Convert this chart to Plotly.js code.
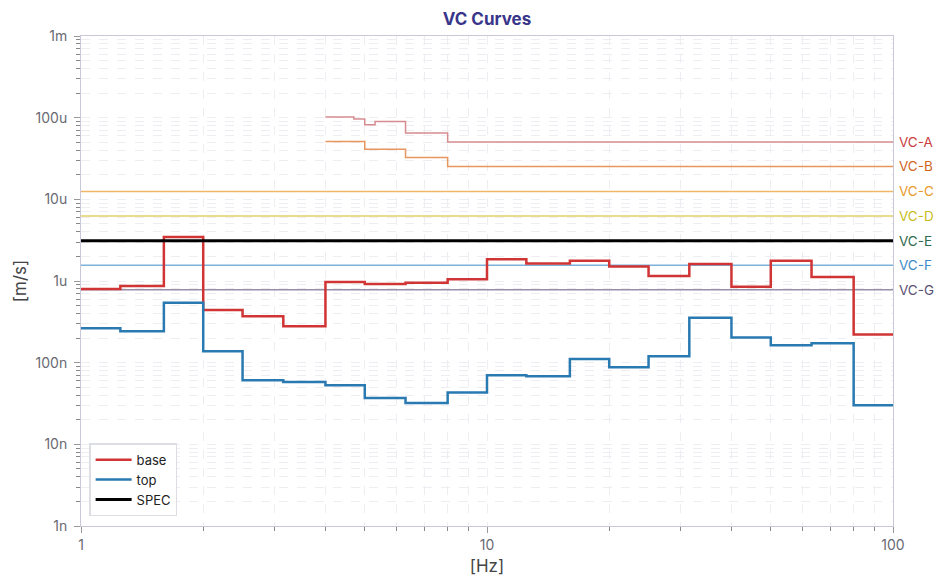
<!DOCTYPE html>
<html>
<head>
<meta charset="utf-8">
<script src="https://cdn.plot.ly/plotly-3.0.1.min.js"></script>
<style>
  html, body { margin: 0; padding: 0; background: #fff; }
  #chart { width: 949px; height: 587px; }
</style>
</head>
<body>
<div id="chart"></div>
<script>
// third-octave band edges (Hz), last value is the end of the plot
const bands = [1, 1.25, 1.6, 2, 2.5, 3.15, 4, 5, 6.3, 8, 10, 12.5, 16, 20, 25, 31.5, 40, 50, 63, 80, 100];

// measured velocity per band [m/s]
const baseVel = [0.80e-6, 0.87e-6, 3.45e-6, 0.44e-6, 0.37e-6, 0.28e-6, 0.97e-6, 0.92e-6, 0.95e-6, 1.05e-6,
                 1.84e-6, 1.64e-6, 1.77e-6, 1.50e-6, 1.15e-6, 1.61e-6, 0.85e-6, 1.77e-6, 1.12e-6, 0.222e-6, 0.222e-6];
const topVel = [264e-9, 242e-9, 543e-9, 138e-9, 61e-9, 58e-9, 53e-9, 37e-9, 32e-9, 43e-9,
                70e-9, 68e-9, 111e-9, 88e-9, 120e-9, 355e-9, 204e-9, 163e-9, 173e-9, 30e-9, 30e-9];

// VC criteria
const vcAFreq = [4, 4.7, 5, 5.3, 6.3, 8, 100];
const vcAVel = [102e-6, 96e-6, 82e-6, 90e-6, 65e-6, 50.5e-6, 50.5e-6];
const vcBFreq = [4, 5, 6.3, 8, 100];
const vcBVel = [51e-6, 41e-6, 32.5e-6, 25.3e-6, 25.3e-6];
const flatFreq = [1, 100];
const vcNames = ['VC-C', 'VC-D', 'VC-E', 'VC-F', 'VC-G'];
const vcFlat = [12.5e-6, 6.25e-6, 3.12e-6, 1.56e-6, 0.78e-6];
const specVel = 3.12e-6;

const labelNames = ['VC-A', 'VC-B', 'VC-C', 'VC-D', 'VC-E', 'VC-F', 'VC-G'];
const labelVel = [50.5e-6, 25.3e-6, 12.5e-6, 6.25e-6, 3.12e-6, 1.56e-6, 0.78e-6];
const labelColors = ['#c9403f', '#d0661e', '#e89a2c', '#c9bd1c', '#2e6a4e', '#3c8bc6', '#5a5072'];

const yTickVals = [1e-9, 1e-8, 1e-7, 1e-6, 1e-5, 1e-4, 1e-3];
const yTickText = ['1n', '10n', '100n', '1u', '10u', '100u', '1m'];
const xTickVals = [1, 10, 100];
const xTickText = ['1', '10', '100'];

const vcLineColors = {
  'VC-C': '#f2b766',
  'VC-D': '#e3d165',
  'VC-E': '#2e6a4e',
  'VC-F': '#7cb2dc',
  'VC-G': '#978ea8'
};

let traces = [];

traces.push({
  x: vcAFreq, y: vcAVel, mode: 'lines', showlegend: false, hoverinfo: 'skip',
  line: {color: '#d68c8e', width: 1.5, shape: 'hv'}
});
traces.push({
  x: vcBFreq, y: vcBVel, mode: 'lines', showlegend: false, hoverinfo: 'skip',
  line: {color: '#e8955e', width: 1.5, shape: 'hv'}
});
vcNames.forEach(function (name, i) {
  traces.push({
    x: flatFreq, y: [vcFlat[i], vcFlat[i]], mode: 'lines', showlegend: false, hoverinfo: 'skip',
    line: {color: vcLineColors[name], width: 1.5}
  });
});

traces.push({
  x: bands, y: baseVel, name: 'base', mode: 'lines',
  line: {color: '#d03434', width: 2.5, shape: 'hv'}
});
traces.push({
  x: bands, y: topVel, name: 'top', mode: 'lines',
  line: {color: '#2a7ab2', width: 2.5, shape: 'hv'}
});
traces.push({
  x: flatFreq, y: [specVel, specVel], name: 'SPEC', mode: 'lines',
  line: {color: '#000000', width: 3}
});

// labels on the right side of the plot
let annotations = labelNames.map(function (name, i) {
  return {
    x: 1, xref: 'paper', xanchor: 'left', xshift: 4,
    y: Math.log10(labelVel[i]), yref: 'y', yanchor: 'middle',
    text: name, showarrow: false,
    font: {family: 'Inter, sans-serif', size: 13.5, color: labelColors[i]}
  };
});

const gridColor = '#ededf2';

let layout = {
  width: 949,
  height: 587,
  margin: {l: 81, r: 56, t: 36, b: 61},
  paper_bgcolor: '#ffffff',
  plot_bgcolor: '#ffffff',
  font: {family: 'Inter, sans-serif', size: 13, color: '#666'},
  title: {
    text: '<b>VC Curves</b>',
    x: 0.5, xref: 'paper', xanchor: 'center', y: 0.968, yanchor: 'middle',
    font: {family: 'Inter, sans-serif', size: 17, color: '#38358a'}
  },
  xaxis: {
    type: 'log', range: [0, 2],
    tickmode: 'array', tickvals: xTickVals, ticktext: xTickText,
    ticks: 'outside', ticklen: 6, tickcolor: '#999',
    showline: true, linecolor: '#c8c8d8', mirror: true,
    showgrid: true, gridcolor: gridColor, griddash: 'dash',
    zeroline: false,
    tickfont: {size: 14, color: '#6a6a72'},
    minor: {dtick: 'D1', ticks: 'outside', ticklen: 4, tickcolor: '#888',
            showgrid: true, gridcolor: gridColor, griddash: 'dash'},
    title: {text: '[Hz]', standoff: 8, font: {size: 17, color: '#444'}}
  },
  yaxis: {
    type: 'log', range: [-9, -3],
    tickmode: 'array', tickvals: yTickVals, ticktext: yTickText,
    ticks: 'outside', ticklen: 6, tickcolor: '#999',
    showline: true, linecolor: '#c8c8d8', mirror: true,
    showgrid: true, gridcolor: gridColor, griddash: 'dash',
    zeroline: false,
    ticklabelstandoff: 4,
    tickfont: {size: 14, color: '#6a6a72'},
    minor: {dtick: 'D1', ticks: 'outside', ticklen: 4, tickcolor: '#888',
            showgrid: true, gridcolor: gridColor, griddash: 'dash'},
    title: {text: '[m/s]', standoff: 4, font: {size: 17, color: '#444'}}
  },
  legend: {
    x: 0.01, y: 0.02, xanchor: 'left', yanchor: 'bottom',
    bgcolor: 'rgba(255,255,255,0.9)', bordercolor: '#dddde4', borderwidth: 1.5,
    itemwidth: 36,
    font: {size: 13, color: '#222'}
  },
  annotations: annotations
};

Plotly.newPlot('chart', traces, layout, {staticPlot: true, displayModeBar: false});
</script>
</body>
</html>
